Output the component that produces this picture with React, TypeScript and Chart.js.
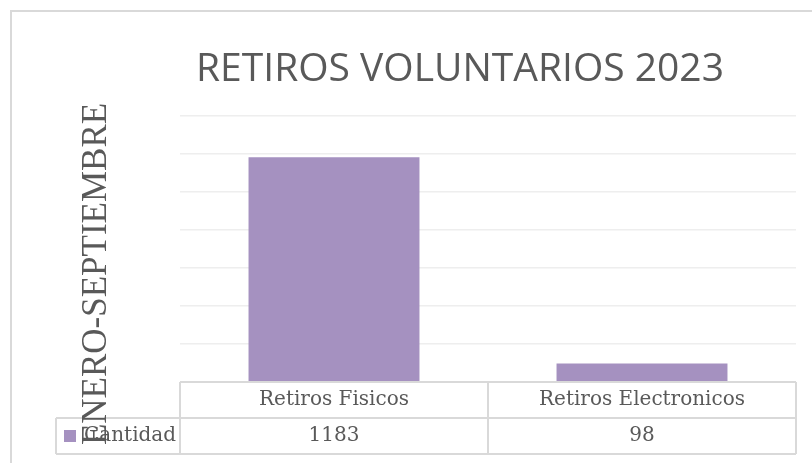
import React, { useEffect, useRef } from "react";
import { Chart, registerables } from "chart.js";

Chart.register(...registerables);

const chartTitle = "RETIROS VOLUNTARIOS 2023";
const axisTitle = "ENERO-SEPTIEMBRE";
const categories = ["Retiros Fisicos", "Retiros Electronicos"];
const seriesName = "Cantidad";
const values = [1183, 98];
const yMin = 0;
const yMax = 1400;
const yStep = 200;

const BAR_COLOR = "rgb(165,145,192)";
const TEXT_COLOR = "#595959";
const LINE_COLOR = "#d9d9d9";

const tablePlugin = {
  id: "excelTable",
  afterDraw(chart: any) {
    const { ctx, chartArea } = chart;
    const xScale = chart.scales.x;
    const left = chartArea.left;
    const right = chartArea.right;
    const top = chartArea.bottom;
    const rowH = 36;
    const mid = top + rowH;
    const bottom = mid + rowH;
    const legendLeft = 56;
    const n = categories.length;
    const colW = (right - left) / n;

    ctx.save();
    // outer frame
    ctx.strokeStyle = LINE_COLOR;
    ctx.lineWidth = 2;
    ctx.beginPath();
    ctx.moveTo(11, chart.height + 10);
    ctx.lineTo(11, 11);
    ctx.lineTo(chart.width + 10, 11);
    ctx.stroke();

    // title
    ctx.fillStyle = TEXT_COLOR;
    ctx.font = "39px 'Open Sans'";
    ctx.textAlign = "center";
    ctx.textBaseline = "alphabetic";
    ctx.fillText(chartTitle, 460, 81);

    // table lines
    ctx.strokeStyle = LINE_COLOR;
    ctx.lineWidth = 2;
    ctx.beginPath();
    ctx.moveTo(left, top);
    ctx.lineTo(right, top);
    ctx.moveTo(legendLeft, mid);
    ctx.lineTo(right, mid);
    ctx.moveTo(legendLeft, bottom);
    ctx.lineTo(right, bottom);
    ctx.moveTo(legendLeft, mid);
    ctx.lineTo(legendLeft, bottom);
    for (let i = 0; i <= n; i++) {
      const x = left + colW * i;
      ctx.moveTo(x, top);
      ctx.lineTo(x, bottom);
    }
    ctx.stroke();

    // table text
    ctx.fillStyle = TEXT_COLOR;
    ctx.font = "20px 'DejaVu Serif'";
    ctx.textAlign = "center";
    ctx.textBaseline = "middle";
    categories.forEach((c, i) => {
      const x = xScale.getPixelForValue(i);
      ctx.fillText(c, x, top + rowH / 2);
      ctx.fillText(String(values[i]), x, mid + rowH / 2);
    });

    // legend key + series name
    ctx.fillStyle = BAR_COLOR;
    ctx.fillRect(64, mid + 12, 12, 12);
    ctx.fillStyle = TEXT_COLOR;
    ctx.textAlign = "left";
    ctx.fillText(seriesName, 84, mid + rowH / 2);

    // axis title (rotated)
    ctx.translate(97, 274);
    ctx.rotate(-Math.PI / 2);
    ctx.font = "35px 'Liberation Serif'";
    ctx.textAlign = "center";
    ctx.textBaseline = "middle";
    ctx.fillStyle = TEXT_COLOR;
    ctx.fillText(axisTitle, 0, 0);
    ctx.restore();
  },
};

export default function App() {
  const ref = useRef<HTMLCanvasElement | null>(null);
  useEffect(() => {
    if (!ref.current) return;
    const chart = new Chart(ref.current, {
      type: "bar",
      data: {
        labels: categories,
        datasets: [
          {
            label: seriesName,
            data: values,
            backgroundColor: BAR_COLOR,
            borderWidth: 0,
            barPercentage: 1,
            categoryPercentage: 0.555,
          },
        ],
      },
      options: {
        responsive: false,
        animation: false,
        events: [],
        layout: { padding: { left: 180, right: 16, top: 116, bottom: 81 } },
        plugins: {
          legend: { display: false },
          title: { display: false },
          tooltip: { enabled: false },
        },
        scales: {
          x: { display: false },
          y: {
            min: yMin,
            max: yMax,
            ticks: { display: false, stepSize: yStep },
            border: { display: false },
            grid: { color: "#eeeeee", lineWidth: 1.5, drawTicks: false },
            afterFit: (s: any) => {
              s.width = 0;
            },
          },
        },
      },
      plugins: [tablePlugin],
    });
    return () => chart.destroy();
  }, []);
  return (
    <div style={{ position: "absolute", left: 0, top: 0, width: 812, height: 463, background: "#fff" }}>
      <canvas ref={ref} width={812} height={463} />
    </div>
  );
}
